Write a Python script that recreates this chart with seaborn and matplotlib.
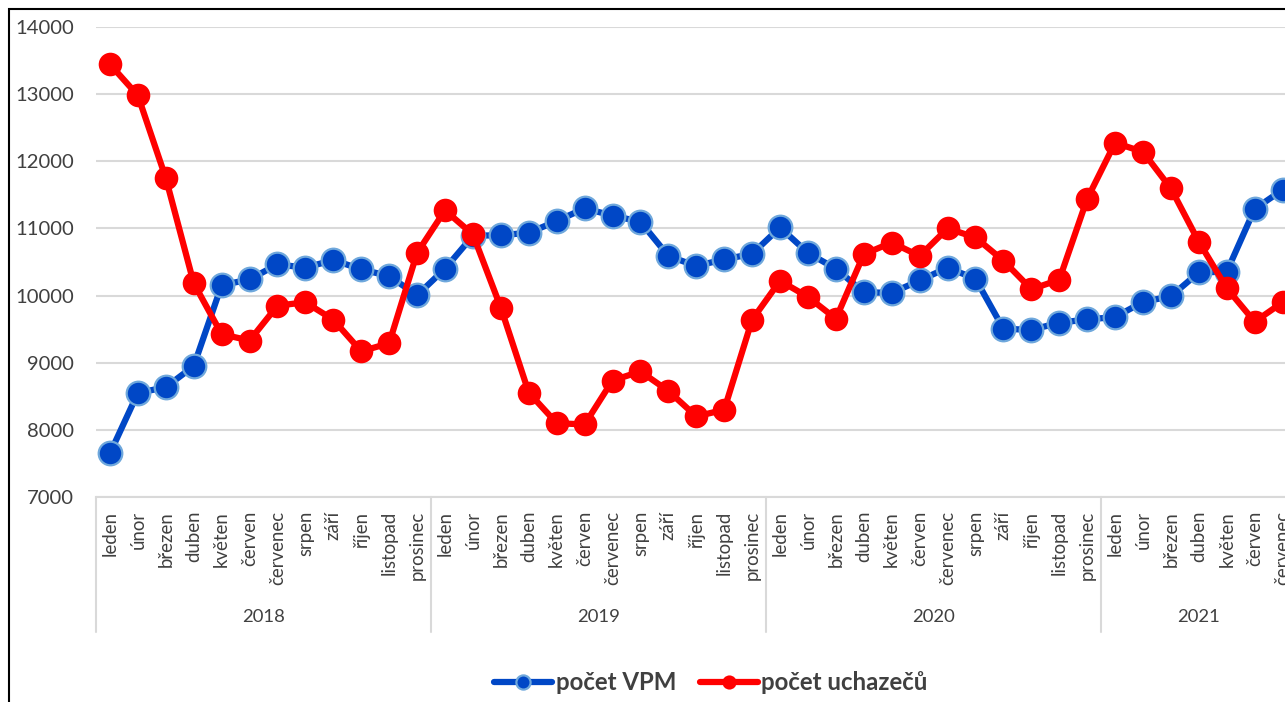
import matplotlib
matplotlib.use('Agg')
import matplotlib.pyplot as plt
import matplotlib.transforms as mtransforms
from matplotlib.patches import Rectangle
import seaborn as sns
import pandas as pd

# data
mesice = ['leden', 'únor', 'březen', 'duben', 'květen', 'červen', 'červenec',
          'srpen', 'září', 'říjen', 'listopad', 'prosinec']
roky = ['2018', '2019', '2020', '2021']
mesicu_v_roce = [12, 12, 12, 7]

pocet_vpm = [7650, 8550, 8635, 8950, 10155, 10240, 10465, 10415, 10530, 10390, 10290, 10005,
             10400, 10890, 10900, 10935, 11110, 11300, 11190, 11100, 10590, 10440, 10540, 10620,
             11015, 10635, 10400, 10050, 10040, 10225, 10415, 10250, 9505, 9490, 9595, 9645,
             9680, 9905, 9990, 10345, 10355, 11290, 11575]
pocet_uchazecu = [13445, 12980, 11750, 10185, 9425, 9330, 9850, 9900, 9640, 9170, 9290, 10635,
                  11270, 10910, 9820, 8555, 8100, 8080, 8735, 8870, 8580, 8200, 8300, 9640,
                  10220, 9980, 9655, 10615, 10790, 10590, 11000, 10865, 10520, 10095, 10235, 11440,
                  12275, 12140, 11595, 10800, 10110, 9610, 9900]

labels = []
for n in mesicu_v_roce:
    labels += mesice[:n]

df = pd.DataFrame({'i': range(len(labels)), 'vpm': pocet_vpm, 'uch': pocet_uchazecu})

sns.set_style('white')
plt.rcParams['font.family'] = ['Lato', 'DejaVu Sans']
seda = '#404040'
mrizka = '#D9D9D9'

fig = plt.figure(figsize=(12.85, 7.02), dpi=100)
# plot area runs past the right edge of the picture (cropped chart)
ax = fig.add_axes([96 / 1285, 205 / 702, 43 * 27.92 / 1285, 470 / 702])

sns.lineplot(data=df, x='i', y='vpm', ax=ax, color='#0047C6', linewidth=4.5,
             marker='o', markersize=17, markerfacecolor='#0047C6',
             markeredgecolor='#6FA8DC', markeredgewidth=1.6, label='počet VPM',
             clip_on=False, zorder=3)
sns.lineplot(data=df, x='i', y='uch', ax=ax, color='#FF0000', linewidth=4.5,
             marker='o', markersize=17, markerfacecolor='#FF0000',
             markeredgecolor='#FF0000', markeredgewidth=0, label='počet uchazečů',
             clip_on=False, zorder=4)

ax.set_xlim(-0.5, len(labels) - 0.5)
ax.set_ylim(7000, 14000)
ax.set_yticks(range(7000, 14001, 1000))
ax.yaxis.grid(True, color=mrizka, linewidth=1.5)
ax.set_axisbelow(True)
for s in ['left', 'right', 'top']:
    ax.spines[s].set_visible(False)
ax.spines['bottom'].set_color(mrizka)
ax.spines['bottom'].set_linewidth(1.5)
ax.set_xlabel('')
ax.set_ylabel('')

ax.set_xticks(range(len(labels)))
ax.set_xticklabels(labels, rotation=90, va='top', ha='center')
ax.tick_params(axis='x', length=0, pad=10, labelsize=13.4, labelcolor=seda)
ax.tick_params(axis='y', length=0, pad=16, labelsize=14.6, labelcolor=seda)

# year groups under the month labels
trans = mtransforms.blended_transform_factory(ax.transData, ax.transAxes)
start = 0
hranice = [-0.5]
for rok, n in zip(roky, mesicu_v_roce):
    konec = start + n
    ax.text((start + konec - 1) / 2, -0.255, rok, transform=trans, ha='center',
            va='center', fontsize=13.3, color=seda)
    hranice.append(konec - 0.5)
    start = konec
for h in hranice:
    ax.plot([h, h], [0, -0.287], transform=trans, color=mrizka, linewidth=1.5,
            clip_on=False)

ax.legend_.remove()
h, l = ax.get_legend_handles_labels()
fig.legend(h, l, loc='center', bbox_to_anchor=(711 / 1285, 19 / 702), ncol=2,
           frameon=False, handlelength=2.4, handletextpad=0.15, columnspacing=1.0,
           markerscale=0.6, prop={'weight': 'bold', 'size': 17.3}, labelcolor=seda)

# outer chart frame
fig.patches.append(Rectangle((9 / 1285, -0.1), 2, (702 - 9) / 702 + 0.1,
                             transform=fig.transFigure, fill=False,
                             edgecolor='#000000', linewidth=1.5))

fig.savefig('out.png', dpi=100)
